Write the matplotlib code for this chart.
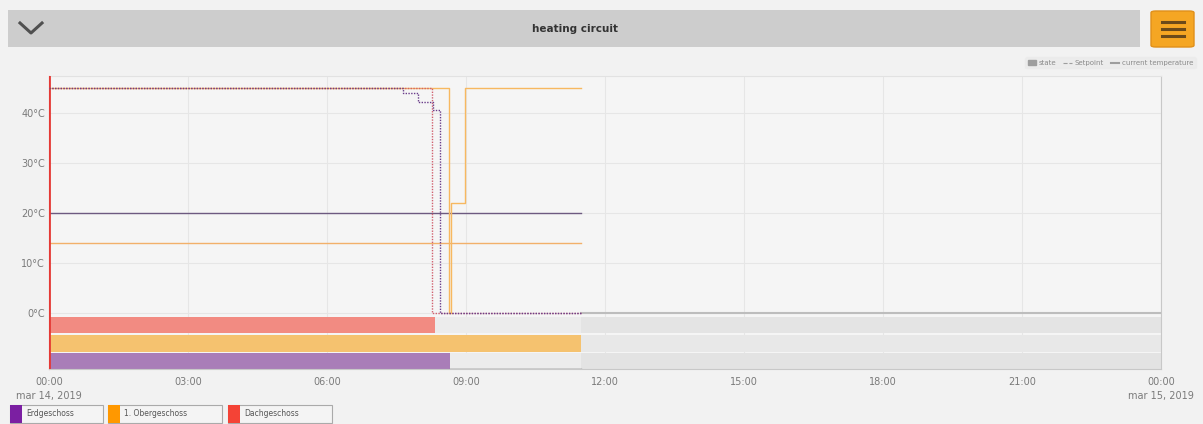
import numpy as np
import matplotlib
matplotlib.use("Agg")
import matplotlib.pyplot as plt
from matplotlib.patches import Rectangle, FancyBboxPatch, Patch
from matplotlib.lines import Line2D

# hours since 00:00 mar 14, 2019
now_h = 11.48

zones = ["Erdgeschoss", "1. Obergeschoss", "Dachgeschoss"]
zone_colors = ["#7b1fa2", "#ff9800", "#f44336"]
state_colors = ["#a97db8", "#f5c26f", "#f28b82"]

# current temperature (flat)
cur_temp = [20.0, 14.0, None]

# setpoint steps
sp_erd_t = [0, 7.64, 7.96, 8.29, 8.44, now_h]
sp_erd_v = [45, 44, 42.3, 40.6, 0, 0]
sp_ober_t = [0, 8.63, 8.68, 8.97, now_h]
sp_ober_v = [45, 0, 22, 45, 45]
sp_dach_t = [0, 8.27, now_h]
sp_dach_v = [45, 0, 0]

# heating state: (start, end)
heat_on = [(0, 8.66), (0, now_h), (0, 8.34)]
heat_off = [(8.66, now_h), None, (8.34, now_h)]

xticks = np.arange(0, 25, 3)
xlabels = ["00:00\nmar 14, 2019", "03:00", "06:00", "09:00", "12:00",
           "15:00", "18:00", "21:00", "00:00\nmar 15, 2019"]
yticks = [0, 10, 20, 30, 40]

W, H = 1203, 424
fig = plt.figure(figsize=(W / 100, H / 100), dpi=100)
fig.patch.set_facecolor("#f2f2f2")

def fx(px):
    return px / W

def fy(py):
    return 1 - py / H

# header bar
fig.patches.append(Rectangle((fx(8), fy(47)), fx(1132), 37 / H, transform=fig.transFigure,
                             facecolor="#cdcdcd", edgecolor="none"))
fig.text(fx(575), fy(29), "heating circuit", ha="center", va="center",
         fontsize=7.5, color="#333333", fontweight="semibold")
fig.lines.append(Line2D([fx(20), fx(31), fx(42)], [fy(23), fy(33), fy(23)],
                        transform=fig.transFigure, color="#505050", lw=2.2))
fig.patches.append(FancyBboxPatch((fx(1151), fy(47)), fx(43), 36 / H,
                                  boxstyle="round,pad=0,rounding_size=0.004",
                                  transform=fig.transFigure, facecolor="#f5a623",
                                  edgecolor="#e0901a"))
for py in [22, 29, 36]:
    fig.lines.append(Line2D([fx(1162), fx(1184)], [fy(py), fy(py)],
                            transform=fig.transFigure, color="#6b4a1a", lw=2.2))

ax = fig.add_axes([fx(49), fy(369), fx(1161 - 49), (369 - 76) / H])
ax.set_facecolor("#f5f5f5")
ax.set_xlim(0, 24)
ax.set_ylim(-11.2, 47.5)

for x in xticks:
    ax.axvline(x, color="#e6e6e6", lw=0.8, zorder=0)
for y in yticks:
    ax.axhline(y, color="#e6e6e6", lw=0.8, zorder=0)

# state rows
rows = [(-4.0, 3.2), (-7.8, 3.4), (-11.2, 3.2)]
order = [2, 1, 0]  # Dachgeschoss on top, Erdgeschoss at bottom
for r, zi in enumerate(order):
    y0, hgt = rows[r]
    s, e = heat_on[zi]
    ax.broken_barh([(s, e - s)], (y0, hgt), facecolors=state_colors[zi], zorder=2)
    if heat_off[zi] is not None:
        s, e = heat_off[zi]
        ax.broken_barh([(s, e - s)], (y0, hgt), facecolors="#ececec", zorder=2)
    ax.broken_barh([(now_h, 24 - now_h)], (y0, hgt),
                   facecolors=["#e4e4e4", "#e8e8e8", "#e3e3e3"][r], zorder=2)
ax.plot([8.66, now_h], [-11.1, -11.1], color="#555555", lw=1, zorder=3)
ax.plot([now_h, 24], [0, 0], color="#bdbdbd", lw=1.5, zorder=3)

# current temperatures
ax.plot([0, now_h], [cur_temp[0]] * 2, color="#6d5a80", lw=1, zorder=4)
ax.plot([0, now_h], [cur_temp[1]] * 2, color="#f2b06a", lw=1, zorder=4)
ax.axvline(0, color="#e53935", lw=2, zorder=5)

# setpoints
ax.step(sp_ober_t, sp_ober_v, where="post", color="#f7b860", lw=1, zorder=4)
ax.step(sp_dach_t, sp_dach_v, where="post", color="#d0606e", lw=1,
        ls=(0, (1, 1)), zorder=5)
ax.step(sp_erd_t, sp_erd_v, where="post", color="#6a3d8a", lw=1,
        ls=(0, (1, 1)), zorder=6)

ax.set_xticks(xticks)
ax.set_xticklabels(xlabels, fontsize=7, color="#7a7a7a", multialignment="center",
                   linespacing=1.5)
ax.set_yticks(yticks)
ax.set_yticklabels([f"{v}°C" for v in yticks], fontsize=7, color="#7a7a7a")
ax.tick_params(axis="x", length=0, pad=6)
ax.tick_params(axis="y", length=0, pad=3)
ax.spines["top"].set_color("#e2e2e2")
ax.spines["right"].set_color("#c8c8c8")
ax.spines["bottom"].set_color("#c8c8c8")
ax.spines["left"].set_color("#e53935")

# top-right legend
handles = [Patch(facecolor="#9e9e9e", edgecolor="#9e9e9e", hatch="||||"),
           Line2D([], [], color="#9e9e9e", lw=0.8, ls="--"),
           Line2D([], [], color="#9e9e9e", lw=1.5)]
fig.legend(handles, ["state", "Setpoint", "current temperature"], ncol=3,
           loc="upper right", bbox_to_anchor=(fx(1199), fy(54)), fontsize=5,
           frameon=True, facecolor="#ebebeb", edgecolor="#ebebeb",
           handlelength=1.2, handleheight=0.6, columnspacing=1.0,
           handletextpad=0.4, borderpad=0.35, labelcolor="#8a8a8a")

# bottom legend
boxes = [(10, 103), (108, 222), (228, 332)]
for (x0, x1), name, col in zip(boxes, zones, zone_colors):
    fig.patches.append(Rectangle((fx(x0), fy(423)), fx(x1 - x0), 18 / H,
                                 transform=fig.transFigure, facecolor="#f4f4f4",
                                 edgecolor="#aaaaaa", lw=0.8))
    fig.patches.append(Rectangle((fx(x0), fy(423)), fx(12), 18 / H,
                                 transform=fig.transFigure, facecolor=col,
                                 edgecolor="none"))
    fig.text(fx(x0 + 16), fy(414), name, ha="left", va="center",
             fontsize=5.5, color="#555555")

fig.savefig("out.png", dpi=100, facecolor=fig.get_facecolor())
